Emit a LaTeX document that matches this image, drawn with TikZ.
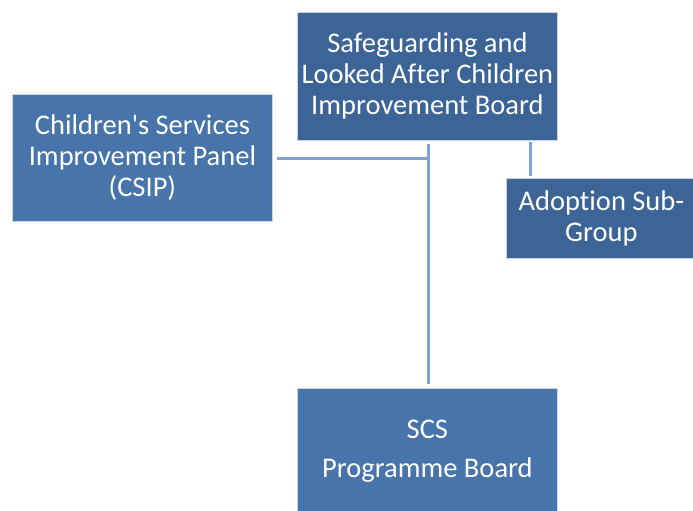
\documentclass[tikz,border=0pt]{standalone}
\usepackage{fontspec}
% plain family without TeX mapping or common ligatures
\newfontfamily\boxfont[Ligatures=NoCommon]{Carlito}
\definecolor{boxmid}{HTML}{4774AA}
\definecolor{boxdark}{HTML}{3C6496}
\definecolor{linkblue}{HTML}{7EA2D6}
\begin{document}
\begin{tikzpicture}[x=1pt,y=-1pt,
  orgbox/.style={draw=white!70!boxmid, line width=0.8pt, inner sep=0pt, anchor=north west,
    text=white, align=center, font=\boxfont\fontsize{28.5}{31}\selectfont},
  link/.style={draw=linkblue, line width=3pt}]
\useasboundingbox (0,0) rectangle (693,511);
\node[orgbox, fill=boxdark, minimum width=260, minimum height=128] (board) at (297,12)
  {Safeguarding and\\Looked After Children\\Improvement Board};
\node[orgbox, fill=boxmid, minimum width=260, minimum height=127] (csip) at (12,94)
  {Children's Services\\Improvement Panel\\(CSIP)};
\node[orgbox, fill=boxdark, minimum width=190, minimum height=80] (adopt) at (506,178)
  {Adoption Sub-\\Group};
\node[orgbox, fill=boxmid, minimum width=260, minimum height=126] (scs) at (297,388)
  {\raisebox{-3pt}{SCS}\\[11pt]Programme Board};
\coordinate (top) at (428,144);
\coordinate (bot) at (428,384);
\coordinate (join) at (428,158);
\coordinate (left) at (277,158);
\draw[link] (top) -- (bot);
\draw[link] (left) -- (join);
\draw[link] (530,142) -- (530,176);
\end{tikzpicture}
\end{document}
